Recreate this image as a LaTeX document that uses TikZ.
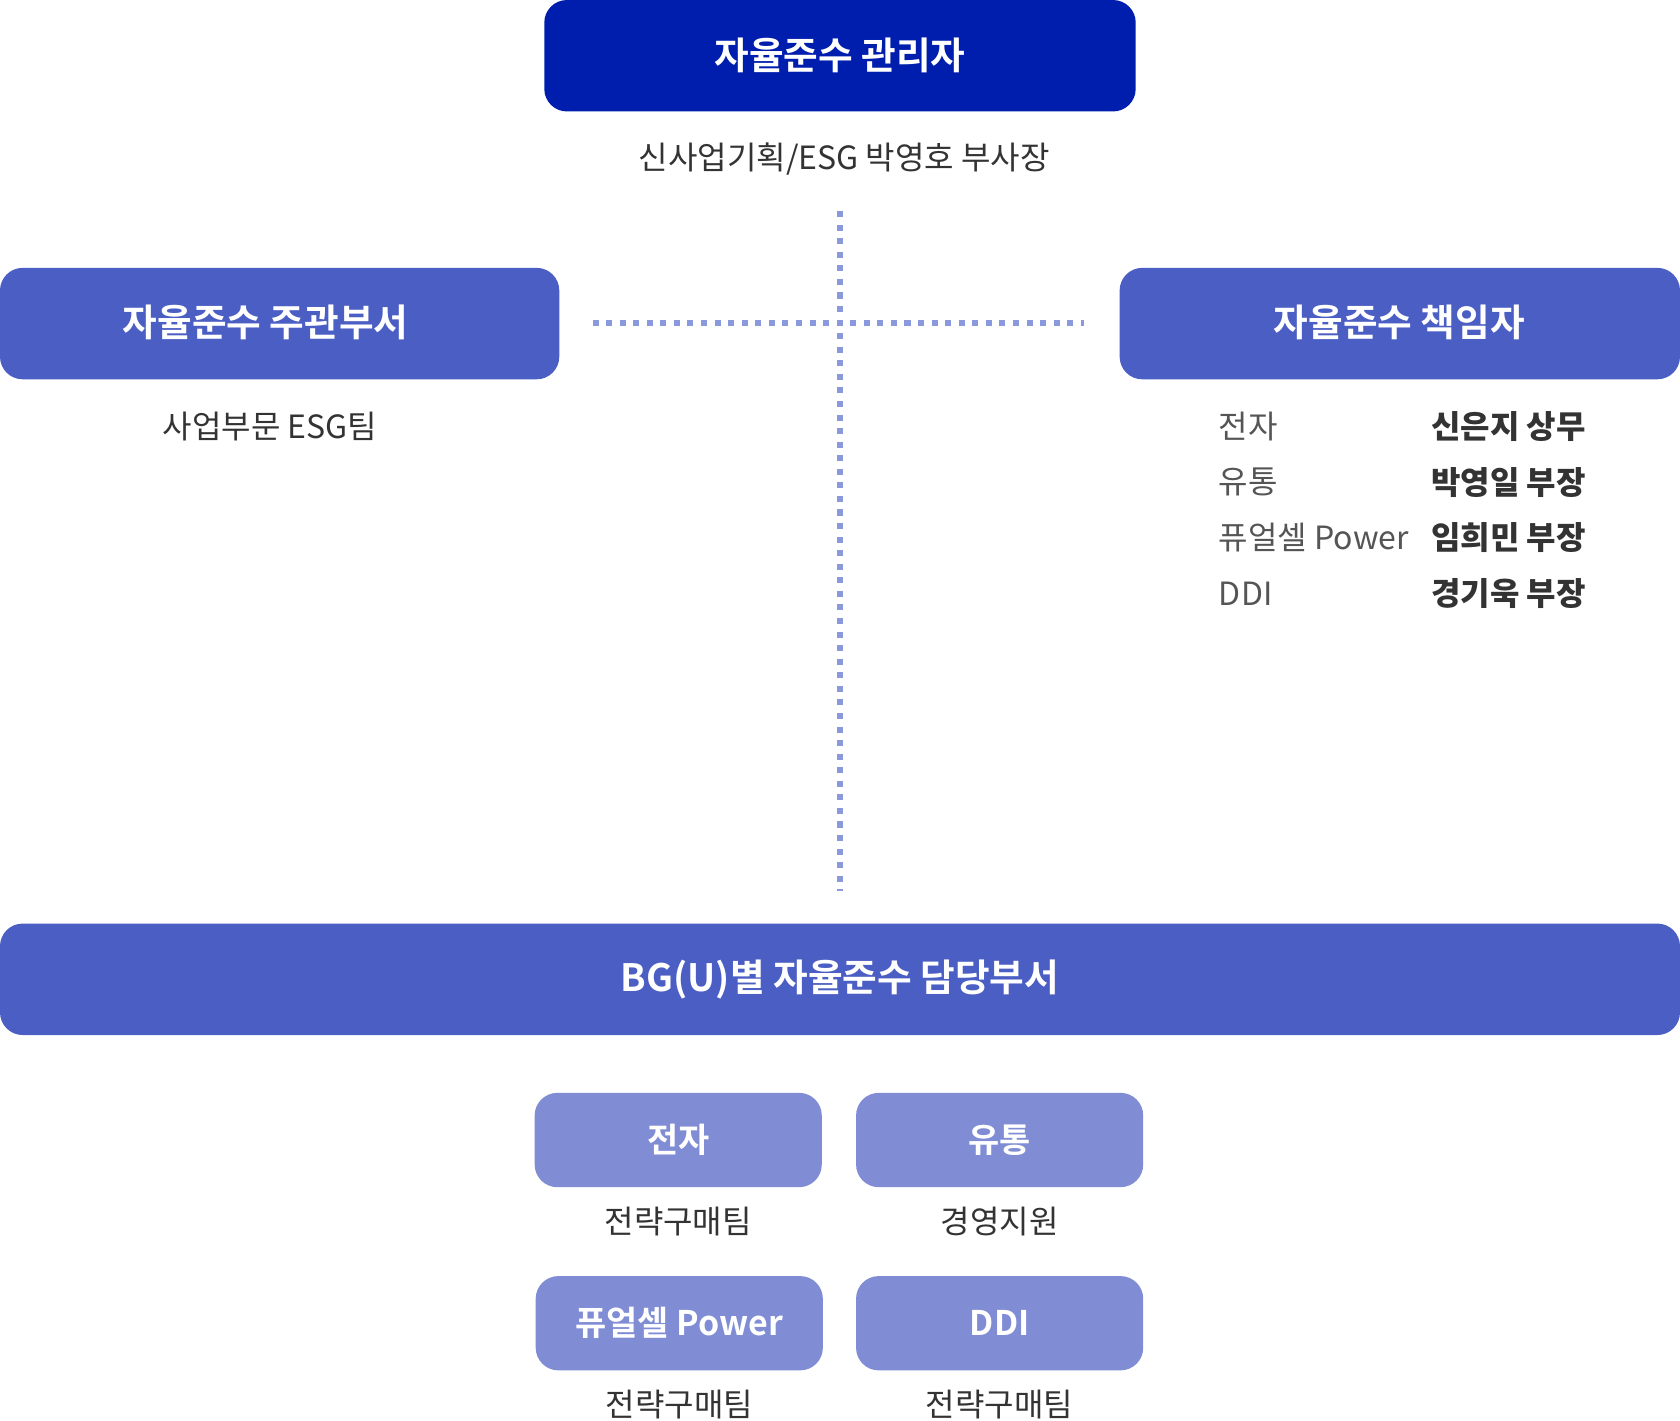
\documentclass[tikz,border=0pt]{standalone}
\usepackage{fontspec}
\setmainfont{Noto Sans CJK KR}
\newfontfamily\krbold{Noto Sans CJK KR Bold}
\usetikzlibrary{positioning}
\definecolor{navy}{HTML}{001EAE}
\definecolor{midblue}{HTML}{4B5EC4}
\definecolor{lightblue}{HTML}{808DD4}
\definecolor{dotblue}{HTML}{8A98DC}
\definecolor{txt}{HTML}{333333}
\definecolor{txtgray}{HTML}{555555}
\tikzset{
  headbox/.style={fill=#1,rounded corners=6pt,text=white,font=\krbold\fontsize{10}{12}\selectfont,inner sep=0pt},
  subtext/.style={text=txt,font=\fontsize{8.5}{10}\selectfont,inner sep=0pt},
  unitbox/.style={headbox=lightblue,font=\krbold\fontsize{9}{11}\selectfont},
}
\begin{document}
\begin{tikzpicture}[x=0.01cm,y=-0.01cm]
    \useasboundingbox (0,0) rectangle (1568,1326);
    % top
    \fill [navy,rounded corners=6pt] (508,0) rectangle (1060,104);
    \node [text=white,font=\krbold\fontsize{10}{12}\selectfont] (Admin) at (784,52) {자율준수 관리자};
    \node [subtext] (AdminName) at (788,148) {신사업기획/ESG 박영호 부사장};
    % middle row
    \fill [midblue,rounded corners=6pt] (0,250) rectangle (522,354);
    \node [text=white,font=\krbold\fontsize{10}{12}\selectfont] (Dept) at (248,301) {자율준수 주관부서};
    \node [subtext] (DeptName) at (252,398) {사업부문 ESG팀};
    \fill [midblue,rounded corners=6pt] (1045,250) rectangle (1568,354);
    \node [text=white,font=\krbold\fontsize{10}{12}\selectfont] (Officer) at (1306,301) {자율준수 책임자};
    \foreach \y/\unit/\person in {398/전자/신은지 상무,450/유통/박영일 부장,502/퓨얼셀 Power/임희민 부장,554/DDI/경기욱 부장} {
        \node [subtext,text=txtgray,anchor=west] at (1137,\y) {\unit};
        \node [subtext,anchor=west,font=\fontsize{8.5}{10}\selectfont\bfseries] at (1335,\y) {\person};
    }
    % dotted cross
    \coordinate (VTop) at (784,197);
    \coordinate (VBot) at (784,832);
    \coordinate (HLeft) at (553,301);
    \coordinate (HRight) at (1012,301);
    \draw [dotblue,line width=1.6pt,dash pattern=on 1.6pt off 2pt] (VTop) -- (VBot);
    \draw [dotblue,line width=1.6pt,dash pattern=on 1.6pt off 2pt] (HLeft) -- (HRight);
    % bottom
    \fill [midblue,rounded corners=6pt] (0,862) rectangle (1568,966);
    \node [text=white,font=\krbold\fontsize{10}{12}\selectfont] (BG) at (784,914) {BG(U)별 자율준수 담당부서};
    \foreach \x/\y/\name/\team [count=\i] in {633/1064/전자/전략구매팀,933/1064/유통/경영지원/EHS팀,634/1235/퓨얼셀 Power/전략구매팀,933/1235/DDI/전략구매팀} {
        \fill [lightblue,rounded corners=6pt] (\x-134,\y-44) rectangle (\x+134,\y+44);
        \node [text=white,font=\krbold\fontsize{9}{11}\selectfont] (Unit\i) at (\x,\y) {\name};
        \node [subtext] (Team\i) at (\x,\y+76) {\team};
    }
\end{tikzpicture}
\end{document}
